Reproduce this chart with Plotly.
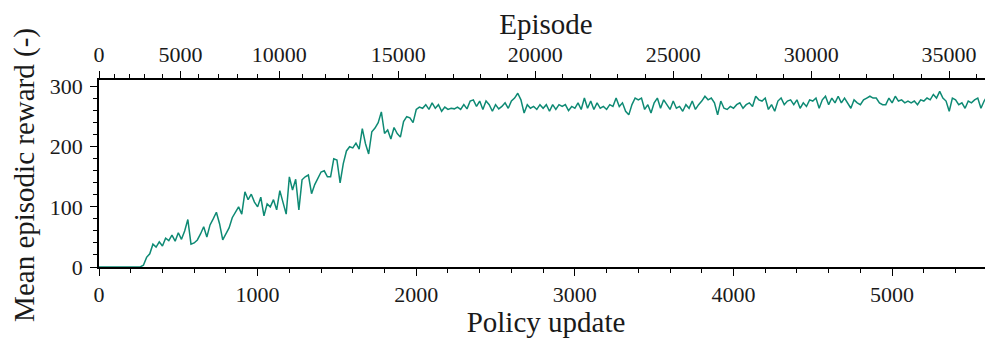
import plotly.graph_objects as go

# ---- data ----
update_step = 20  # one reading every 20 policy updates, starting at 0

reward_start = [0] * 14  # updates 0..260, line lies on the zero axis

reward_rise = [
    3, 16, 22, 38, 33, 42, 35, 48, 44, 53, 43, 57, 46, 60, 79, 38, 40, 45, 55, 67,
    50, 70, 80, 91, 72, 45, 55, 65, 82, 92, 100, 88, 125, 112, 121, 108, 100, 116, 85, 105,
    100, 112, 95, 127, 105, 88, 150, 128, 146, 95, 145, 150, 153, 122, 137, 148, 158, 160, 150, 150,
    180, 178, 140, 172, 193, 200, 198, 206, 196, 230, 205, 188, 225, 231, 240, 258, 222, 228, 213, 232,
    222, 216, 242, 250, 248, 240, 262,
]

reward_plateau_a = [
    266, 264, 270, 262, 273, 264, 270, 259, 266, 262, 264, 263, 266, 262, 270, 263, 276, 278, 267, 276,
    262, 276, 270, 259, 270, 263, 267, 273, 264, 276, 281, 289, 278, 256, 270, 264, 267, 262, 270, 264,
    270, 259, 270, 262, 270, 267,
]

reward_plateau_b = [
    270, 260, 267, 264, 273, 262, 281, 264, 276, 262, 273, 264, 267, 262, 270, 267, 281, 267, 273, 259,
    253, 270, 281, 278, 281, 262, 270, 256, 273, 281, 264, 278, 270, 262, 276, 264, 267, 259, 270, 264,
    276, 262, 270,
]

reward_plateau_c = [
    276, 284, 278, 281, 273, 253, 276, 264, 262, 267, 264, 270, 273, 264, 270, 273, 267, 284, 278, 276,
    281, 262, 270, 259, 276, 281, 270, 276, 278, 270, 278, 264, 273, 267, 278, 276, 281, 264, 278, 284,
    270, 281, 273, 284,
]

reward_plateau_d = [
    273, 281, 273, 264, 278, 273, 270, 278, 281, 284, 281, 281, 273, 270, 270, 281, 273, 284, 276, 278,
    273, 276, 273, 276, 270, 278, 276, 281, 278, 287, 281, 292, 281, 276, 259, 281, 278, 270, 273, 264,
    276, 273, 278, 281, 264, 276, 284, 273, 268,
]

reward = reward_start + reward_rise + reward_plateau_a + reward_plateau_b + reward_plateau_c + reward_plateau_d
policy_update = [i * update_step for i in range(len(reward))]

# top axis: policy update at which each thousand of episodes is reached
episode_thousands = list(range(0, 37))
episode_at_update = [
    0, 98, 192, 287, 400, 514, 627, 753, 873, 999,
    1137, 1282, 1427, 1572, 1723, 1887, 2057, 2234, 2404, 2574,
    2750, 2921, 3097, 3267, 3444, 3620, 3797, 3967, 4143, 4313,
    4490, 4666, 4836, 5006, 5183, 5359, 5529,
]
episode_major_labels = ["0", "5000", "10000", "15000", "20000", "25000", "30000", "35000"]

bottom_ticks = [0, 1000, 2000, 3000, 4000, 5000]
y_ticks = [0, 100, 200, 300]

x_max = 5636
y_max = 311

major_pos = [episode_at_update[k] for k in episode_thousands if k % 5 == 0]
minor_pos = [episode_at_update[k] for k in episode_thousands if k % 5 != 0]

FONT = "Liberation Serif"
TXT = "#1a1a1a"
LINE = "#0e8a74"
TITLE_SIZE = 29

fig = go.Figure()
fig.add_trace(go.Scatter(
    x=policy_update, y=reward, mode="lines",
    line=dict(color=LINE, width=1.5), showlegend=False, hoverinfo="skip",
))
fig.add_trace(go.Scatter(
    x=[0, x_max], y=[0, 0], mode="lines", xaxis="x2", opacity=0,
    showlegend=False, hoverinfo="skip",
))

axis_common = dict(
    showgrid=False, zeroline=False, showline=True, linecolor="black", linewidth=1.5,
    ticks="outside", tickcolor="black", tickwidth=1.3, ticklen=7, automargin=False,
    tickfont=dict(family=FONT, size=22, color=TXT),
)

fig.update_layout(
    width=985, height=330,
    margin=dict(l=91, r=0, t=72, b=71, autoexpand=False),
    paper_bgcolor="white", plot_bgcolor="white",
    font=dict(family=FONT, color=TXT),
    xaxis=dict(
        **axis_common, range=[0, x_max], tickmode="array", tickvals=bottom_ticks,
        ticktext=[str(v) for v in bottom_ticks],
        minor=dict(dtick=200, tick0=0, ticks="outside", ticklen=4, tickcolor="black", tickwidth=1.1),
        title=dict(text="Policy update", font=dict(family=FONT, size=TITLE_SIZE, color=TXT), standoff=2),
    ),
    xaxis2=dict(
        **axis_common, range=[0, x_max], overlaying="x", side="top", anchor="y",
        tickmode="array", tickvals=major_pos, ticktext=episode_major_labels,
        minor=dict(tickmode="array", tickvals=minor_pos, ticks="outside", ticklen=4,
                   tickcolor="black", tickwidth=1.1),
        title=dict(text="Episode", font=dict(family=FONT, size=TITLE_SIZE, color=TXT), standoff=6),
    ),
    yaxis=dict(
        **axis_common, range=[0, y_max], tickmode="array", tickvals=y_ticks,
        ticktext=[str(v) for v in y_ticks], ticklabelstandoff=3,
        minor=dict(dtick=20, tick0=0, ticks="outside", ticklen=4, tickcolor="black", tickwidth=1.1),
    ),
    annotations=[dict(
        text="Mean episodic reward (-)", textangle=-90,
        xref="paper", yref="paper", x=-0.0833, y=0.49,
        xanchor="center", yanchor="middle", showarrow=False,
        font=dict(family=FONT, size=TITLE_SIZE, color=TXT),
    )],
)

fig.write_html("out.html")
